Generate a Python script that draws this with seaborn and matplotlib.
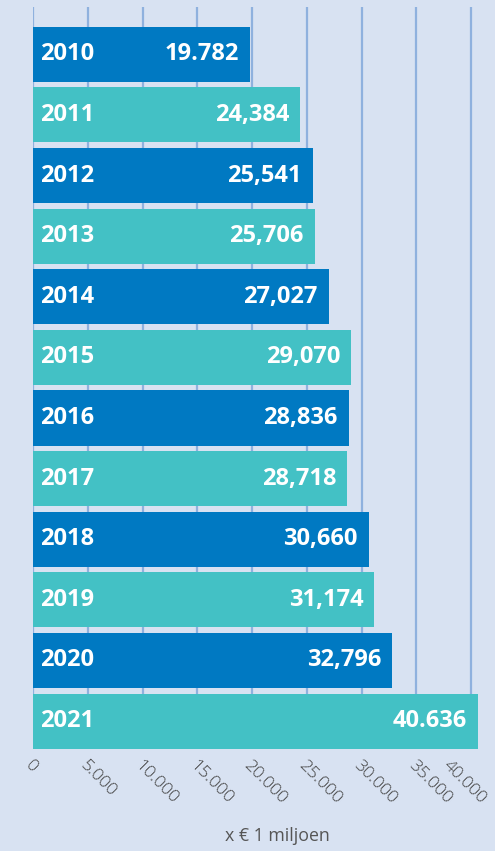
import matplotlib
matplotlib.use('Agg')
import matplotlib.pyplot as plt
import matplotlib.transforms as mtransforms
import seaborn as sns
import pandas as pd

years = ['2010', '2011', '2012', '2013', '2014', '2015',
         '2016', '2017', '2018', '2019', '2020', '2021']
values = [19782, 24384, 25541, 25706, 27027, 29070,
          28836, 28718, 30660, 31174, 32796, 40636]
value_labels = ['19.782', '24,384', '25,541', '25,706', '27,027', '29,070',
                '28,836', '28,718', '30,660', '31,174', '32,796', '40.636']
xticks = [0, 5000, 10000, 15000, 20000, 25000, 30000, 35000, 40000]
xtick_labels = ['0', '5.000', '10.000', '15.000', '20.000', '25.000',
                '30.000', '35.000', '40.000']
x_label = 'x € 1 miljoen'

DARK = '#0079c2'
TEAL = '#43c1c5'
BG = '#d8e2f2'
GRID = '#8fb1de'

sns.set_theme(style='white')
plt.rcParams['font.family'] = ['Open Sans', 'DejaVu Sans']

df = pd.DataFrame({'year': years, 'value': values})
palette = {y: (DARK if i % 2 == 0 else TEAL) for i, y in enumerate(years)}

W, H = 495, 851
fig = plt.figure(figsize=(W / 100, H / 100), dpi=100, facecolor=BG)
left_px, right_px, top_px, bottom_px = 33, 482, 7, 749
ax = fig.add_axes([left_px / W, 1 - bottom_px / H,
                   (right_px - left_px) / W, (bottom_px - top_px) / H])
ax.set_facecolor(BG)

sns.barplot(data=df, x='value', y='year', hue='year', palette=palette,
            order=years, orient='h', width=0.908, legend=False,
            saturation=1, linewidth=0, edgecolor='none', ax=ax)

ax.set_xlim(0, 41000)
ax.set_ylim(11.46, -0.78)
ax.set_axisbelow(True)
ax.grid(axis='x', color=GRID, linewidth=1.6)
ax.grid(axis='y', visible=False)
for s in ax.spines.values():
    s.set_visible(False)

ax.set_xticks(xticks)
ax.set_xticklabels(xtick_labels, rotation=-45, ha='left', va='top',
                   rotation_mode='anchor', fontsize=12.5, color='#444444',
                   fontweight='light')
ax.tick_params(axis='x', length=0, pad=6)
# keep the last rotated label inside the figure
last = ax.get_xticklabels()[-1]
last.set_transform(last.get_transform() +
                   mtransforms.ScaledTranslation(-20 / 100, 0, fig.dpi_scale_trans))
ax.set_yticks([])
ax.set_xlabel('')
ax.set_ylabel('')

for i, (y, v, lab) in enumerate(zip(years, values, value_labels)):
    ax.annotate(y, (0, i), xytext=(5, 0), textcoords='offset points',
                ha='left', va='center', color='white', fontsize=17,
                fontweight='bold')
    ax.annotate(lab, (v, i), xytext=(-8, 0), textcoords='offset points',
                ha='right', va='center', color='white', fontsize=17,
                fontweight='bold')

fig.text(277 / W, 1 - 836 / H, x_label, ha='center', va='center',
         fontsize=12.8, color='#555555')

fig.savefig('out.png', dpi=100, facecolor=BG)
